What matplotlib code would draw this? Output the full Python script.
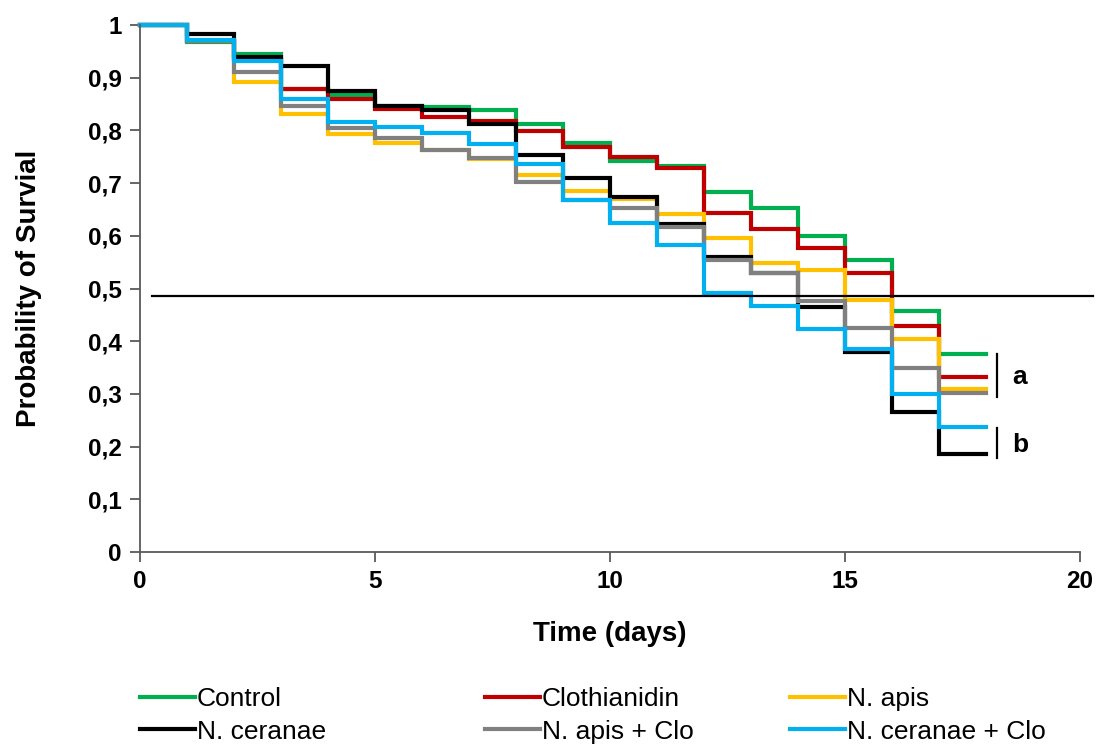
import matplotlib
matplotlib.use("Agg")
import matplotlib.pyplot as plt

plt.rcParams['font.family'] = ['Liberation Sans', 'DejaVu Sans']

# days at which each survival step starts (last point closes the final step)
days = list(range(0, 19))

control = [1.0, 0.967, 0.945, 0.879, 0.867, 0.846, 0.845, 0.839, 0.812, 0.777,
           0.742, 0.732, 0.684, 0.653, 0.600, 0.554, 0.458, 0.375]
clothianidin = [1.0, 0.970, 0.935, 0.879, 0.860, 0.840, 0.825, 0.818, 0.799, 0.769,
                0.750, 0.728, 0.643, 0.613, 0.576, 0.530, 0.428, 0.333]
n_apis = [1.0, 0.970, 0.891, 0.832, 0.793, 0.777, 0.762, 0.745, 0.715, 0.685,
          0.669, 0.641, 0.596, 0.548, 0.535, 0.478, 0.404, 0.309]
n_ceranae = [1.0, 0.983, 0.940, 0.922, 0.875, 0.846, 0.839, 0.813, 0.753, 0.709,
             0.674, 0.622, 0.560, 0.530, 0.465, 0.380, 0.265, 0.186]
n_apis_clo = [1.0, 0.970, 0.910, 0.846, 0.804, 0.785, 0.763, 0.747, 0.703, 0.668,
              0.652, 0.616, 0.555, 0.530, 0.477, 0.425, 0.350, 0.301]
n_ceranae_clo = [1.0, 0.971, 0.932, 0.860, 0.815, 0.807, 0.796, 0.775, 0.736, 0.668,
                 0.624, 0.583, 0.491, 0.467, 0.423, 0.386, 0.300, 0.238]

labels = ['Control', 'Clothianidin', 'N. apis', 'N. ceranae', 'N. apis + Clo', 'N. ceranae + Clo']
colors = ['#00B050', '#C00000', '#FFC000', '#000000', '#808080', '#00B0F0']
series = [control, clothianidin, n_apis, n_ceranae, n_apis_clo, n_ceranae_clo]

median_level = 0.486
median_span = [0.26, 20.28]

fig = plt.figure(figsize=(11.05, 7.45), dpi=100)
ax = fig.add_axes([140 / 1105, 193 / 745, 940 / 1105, 527 / 745])

lines = {}
for lab, col, vals in zip(labels, colors, series):
    ys = vals + [vals[-1]]
    ln, = ax.step(days, ys, where='post', color=col, lw=3, label=lab,
                  solid_joinstyle='miter', clip_on=False)
    lines[lab] = ln

ax.plot(median_span, [median_level, median_level], color='black', lw=1.6, clip_on=False)

# significance groups
ax.plot([18.23, 18.23], [0.295, 0.376], color='black', lw=1.6, clip_on=False)
ax.plot([18.23, 18.23], [0.178, 0.235], color='black', lw=1.6, clip_on=False)
ax.text(18.55, 0.333, 'a', fontsize=19, fontweight='bold', va='center', ha='left')
ax.text(18.55, 0.203, 'b', fontsize=19, fontweight='bold', va='center', ha='left')

ax.set_xlim(0, 20)
ax.set_ylim(0, 1)
ax.set_xticks([0, 5, 10, 15, 20])
ax.set_yticks([i / 10 for i in range(11)])
ax.set_yticklabels(['0'] + ['0,%d' % i for i in range(1, 10)] + ['1'])
for s in ['top', 'right']:
    ax.spines[s].set_visible(False)
for s in ['left', 'bottom']:
    ax.spines[s].set_color('#595959')
    ax.spines[s].set_linewidth(1.3)
ax.tick_params(direction='out', length=7, width=1.3, color='#595959',
               labelsize=17.5, pad=6)
for t in ax.get_xticklabels() + ax.get_yticklabels():
    t.set_fontweight('bold')

ax.set_xlabel('Time (days)', fontsize=20, fontweight='bold', labelpad=20)
ax.set_ylabel('Probability of Survial', fontsize=20, fontweight='bold', labelpad=33)

# legend, three columns placed like the original
cols = [(['Control', 'N. ceranae'], 140), (['Clothianidin', 'N. apis + Clo'], 485),
        (['N. apis', 'N. ceranae + Clo'], 790)]
for names, xpix in cols:
    fig.legend([lines[n] for n in names], names, loc='upper left',
               bbox_to_anchor=(xpix / 1105, 1 - 687 / 745), frameon=False,
               fontsize=19, handlelength=2.1, handletextpad=0.05,
               labelspacing=0.33, borderaxespad=0, borderpad=0)

fig.savefig('out.png', dpi=100)
